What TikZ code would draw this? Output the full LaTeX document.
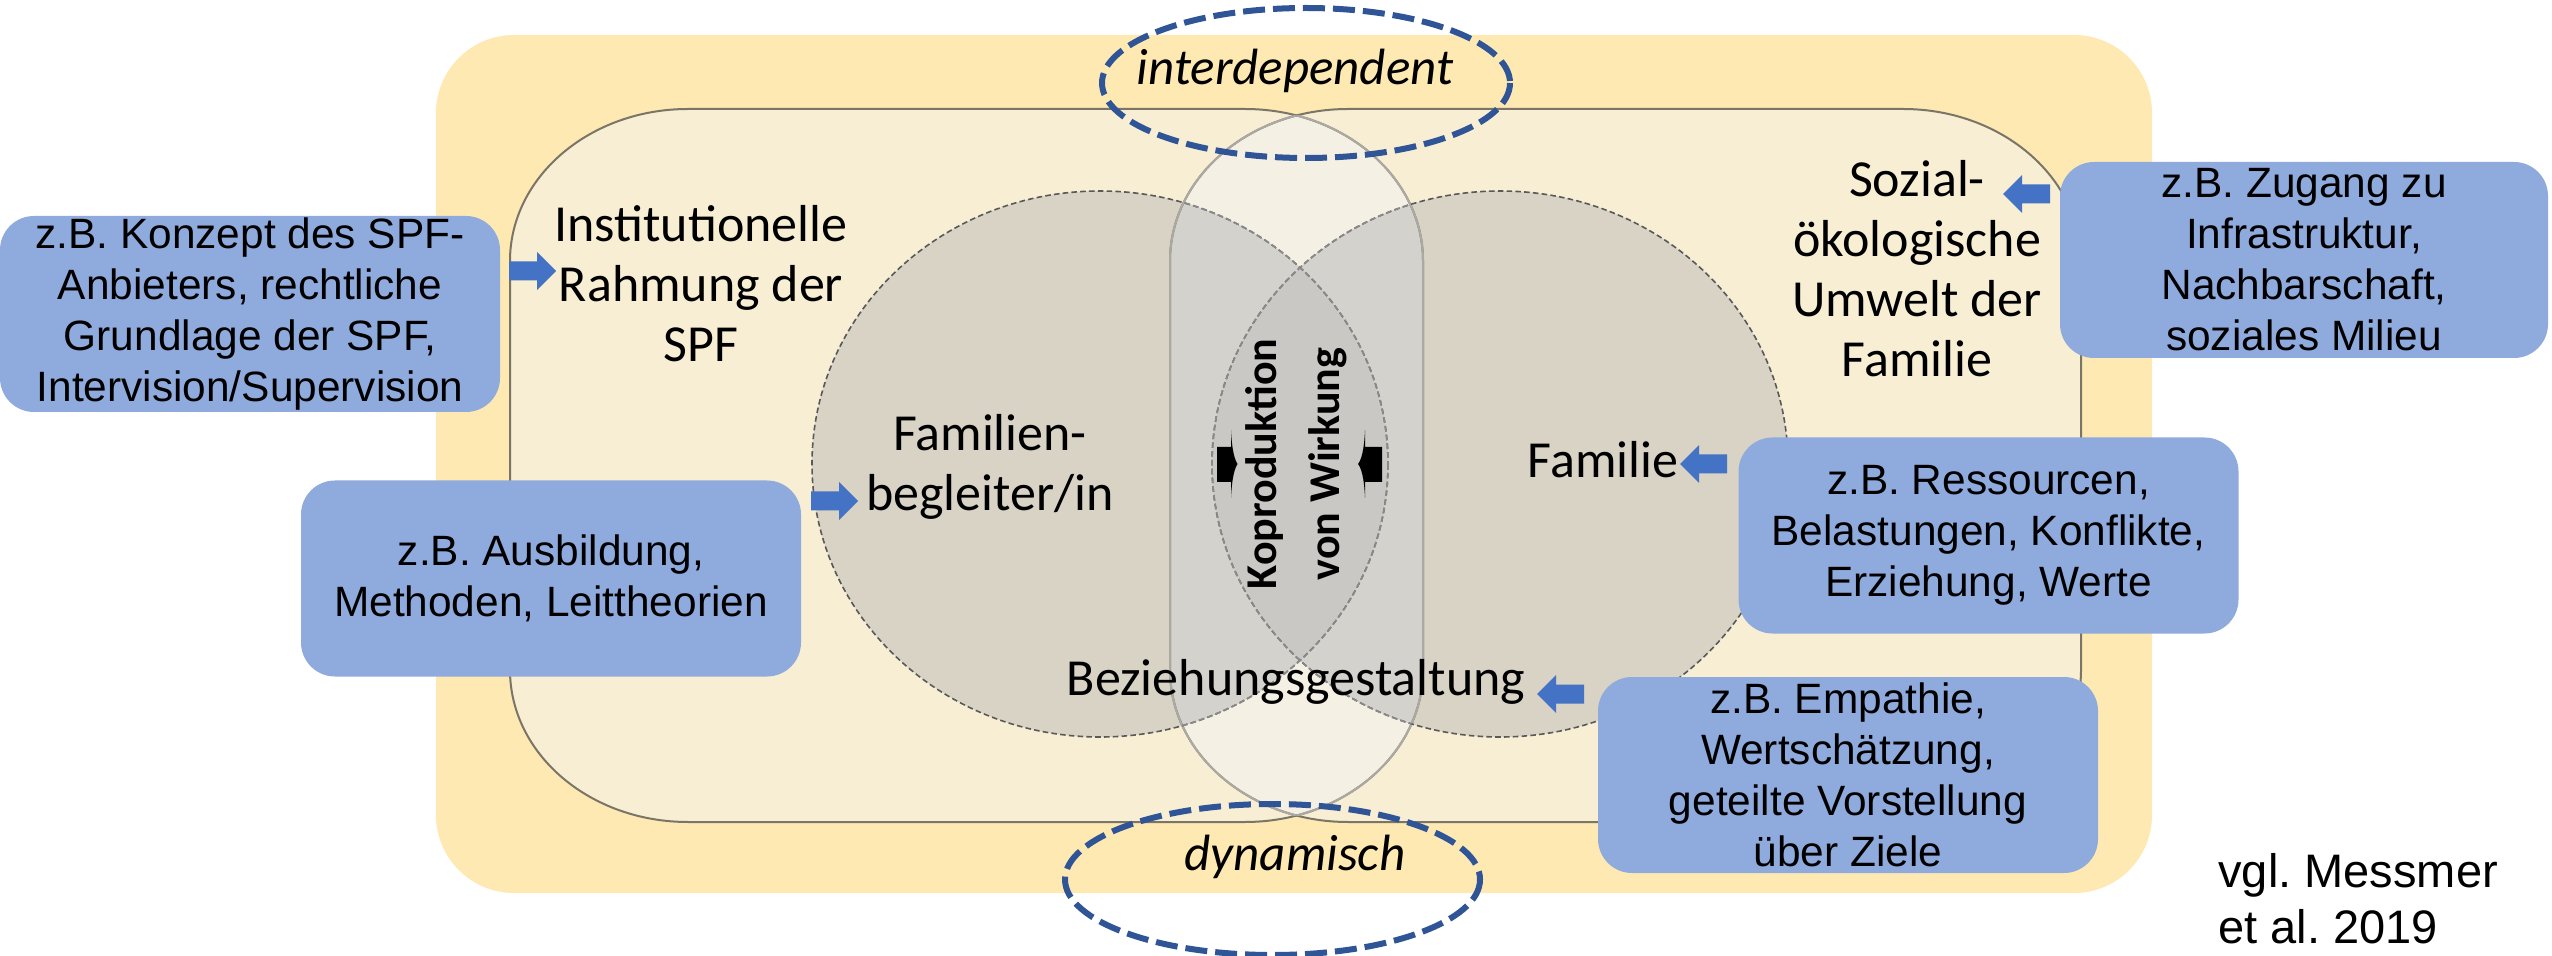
\documentclass[tikz,border=0pt]{standalone}
\usepackage{fontspec}
\setmainfont{Carlito}
\newfontfamily\arialfont{Liberation Sans}
\frenchspacing
\definecolor{outeryellow}{HTML}{FFE9B2}
\definecolor{cream}{HTML}{F7EED3}
\definecolor{stripe}{HTML}{F5F0E4}
\definecolor{circgray}{HTML}{D8D3C5}
\definecolor{circstripe}{HTML}{D3D2CC}
\definecolor{lensgray}{HTML}{C9C8C4}
\definecolor{boxblue}{HTML}{8FAADC}
\definecolor{arrowblue}{HTML}{4472C4}
\definecolor{ellblue}{HTML}{2F5597}
\definecolor{rectline}{HTML}{7A7567}
\definecolor{rectlinelight}{HTML}{ABA9A2}
\definecolor{dashgray}{HTML}{595959}
\definecolor{dashlight}{HTML}{8A8A8A}
\def\leftrect{(688,109) -- (1245,109) arc[start angle=-90,end angle=0,x radius=178,y radius=152] -- (1423,670) arc[start angle=0,end angle=90,x radius=178,y radius=152] -- (688,822) arc[start angle=90,end angle=180,x radius=178,y radius=152] -- (510,261) arc[start angle=180,end angle=270,x radius=178,y radius=152] -- cycle}
\def\rightrect{(1348,109) -- (1903,109) arc[start angle=-90,end angle=0,x radius=178,y radius=152] -- (2081,670) arc[start angle=0,end angle=90,x radius=178,y radius=152] -- (1348,822) arc[start angle=90,end angle=180,x radius=178,y radius=152] -- (1170,261) arc[start angle=180,end angle=270,x radius=178,y radius=152] -- cycle}
\def\leftcirc{(1100,464) ellipse [x radius=288, y radius=273]}
\def\rightcirc{(1500,464) ellipse [x radius=288, y radius=273]}
\begin{document}
\begin{tikzpicture}[x=0.5pt,y=-0.5pt,
  lbl/.style={font=\fontsize{26pt}{30pt}\selectfont, align=center, inner sep=0pt, anchor=base},
  ital/.style={font=\itshape\fontsize{25.5pt}{30pt}\selectfont, inner sep=0pt, anchor=base},
  bbox/.style={fill=boxblue, rounded corners=17pt, inner sep=0pt, align=center,
    font=\arialfont\fontsize{21.2pt}{25.5pt}\selectfont, minimum width=250pt, minimum height=98pt},
  rectedge/.style={line width=1pt},
  circedge/.style={line width=0.8pt, dash pattern=on 2.8pt off 1.6pt},
  ellipsedash/.style={draw=ellblue, line width=3pt, dash pattern=on 11pt off 4pt},
  pics/arrowright/.style={code={\fill[arrowblue] (0,-9.5) -- (28,-9.5) -- (28,-19) -- (47,0) -- (28,19) -- (28,9.5) -- (0,9.5) -- cycle;}},
  pics/arrowleft/.style={code={\fill[arrowblue] (0,-9.5) -- (-28,-9.5) -- (-28,-19) -- (-47,0) -- (-28,19) -- (-28,9.5) -- (0,9.5) -- cycle;}}
]
\useasboundingbox (0,0) rectangle (2552,956);
\fill[white] (0,0) rectangle (2552,956);
% outer frame
\fill[outeryellow, rounded corners=39pt] (436,35) rectangle (2152,893);
% inner rounded rectangles
\fill[cream] \leftrect;
\fill[cream] \rightrect;
\begin{scope}
  \clip \leftrect;
  \fill[stripe] \rightrect;
\end{scope}
% grey circles
\fill[circgray] \leftcirc;
\fill[circgray] \rightcirc;
\begin{scope}
  \clip \leftrect;
  \clip \rightrect;
  \fill[circstripe] \leftcirc;
  \fill[circstripe] \rightcirc;
\end{scope}
\begin{scope}
  \clip \leftcirc;
  \fill[lensgray] \rightcirc;
\end{scope}
% rectangle outlines
\draw[rectedge, rectline] \leftrect;
\draw[rectedge, rectline] \rightrect;
\begin{scope}
  \clip \rightrect;
  \draw[rectedge, rectlinelight] \leftrect;
\end{scope}
\begin{scope}
  \clip \leftrect;
  \draw[rectedge, rectlinelight] \rightrect;
\end{scope}
% circle outlines
\draw[circedge, dashgray] \leftcirc;
\draw[circedge, dashgray] \rightcirc;
\begin{scope}
  \clip \leftrect;
  \clip \rightrect;
  \draw[circedge, dashlight] \leftcirc;
  \draw[circedge, dashlight] \rightcirc;
\end{scope}
% labels (anchor base = baseline of the last line)
\node[lbl] (inst) at (701,362) {Institutionelle\\Rahmung der\\SPF};
\node[lbl] (fb) at (990,510) {Familien-\\begleiter/in};
\node[lbl] (sozial) at (1917,377) {Sozial-\\ökologische\\Umwelt der\\Familie};
\node[lbl] (fam) at (1603,478) {Familie};
\node[lbl] (bez) at (1296,695) {Beziehungsgestaltung};
\node[font=\bfseries\fontsize{22pt}{31.5pt}\selectfont, align=center, inner sep=0pt, rotate=90] (kop) at (1296,464) {Koproduktion\\von Wirkung};
% black arrows in the lens
\fill[black] (1217,447) -- (1231,447) -- (1231,430) .. controls (1232,452) and (1235,460) .. (1237.5,464) .. controls (1235,468) and (1232,476) .. (1231,498) -- (1231,482) -- (1217,482) -- cycle;
\fill[black] (1382,447) -- (1365,447) -- (1365,430) .. controls (1364,452) and (1361,460) .. (1358,464) .. controls (1361,468) and (1364,476) .. (1365,498) -- (1365,482) -- (1382,482) -- cycle;
% blue boxes
\node[bbox] (b1) at (250,314) {z.B. Konzept des SPF-\\Anbieters, rechtliche\\Grundlage der SPF,\\Intervision/Supervision};
\node[bbox] (b2) at (551,578.5) {z.B. Ausbildung,\\Methoden, Leittheorien};
\node[bbox, minimum width=244pt] (b3) at (2304,260) {z.B. Zugang zu\\Infrastruktur,\\Nachbarschaft,\\soziales Milieu};
\node[bbox] (b4) at (1988.5,535.5) {z.B. Ressourcen,\\Belastungen, Konflikte,\\Erziehung, Werte};
\node[bbox] (b5) at (1848,775) {z.B. Empathie,\\Wertschätzung,\\geteilte Vorstellung\\über Ziele};
% blue block arrows
\coordinate (tA) at (509,271);
\coordinate (tB) at (811,501);
\coordinate (tC) at (2050,194);
\coordinate (tD) at (1727,464);
\coordinate (tE) at (1584,694);
\pic (arrA) at (tA) {arrowright};
\pic (arrB) at (tB) {arrowright};
\pic (arrC) at (tC) {arrowleft};
\pic (arrD) at (tD) {arrowleft};
\pic (arrE) at (tE) {arrowleft};
% dashed ellipses
\node[ital] (inter) at (1295,85) {interdependent};
\node[ital] (dyn) at (1295,870) {dynamisch};
\draw[ellipsedash] (1306,83) ellipse [x radius=204, y radius=75];
\draw[ellipsedash] (1272.5,879.5) ellipse [x radius=207.5, y radius=75.5];
% source
\node[font=\arialfont\fontsize{23.5pt}{28pt}\selectfont, align=left, inner sep=0pt, anchor=base west] (src) at (2218,943) {vgl. Messmer\\et al. 2019};
\end{tikzpicture}
\end{document}
